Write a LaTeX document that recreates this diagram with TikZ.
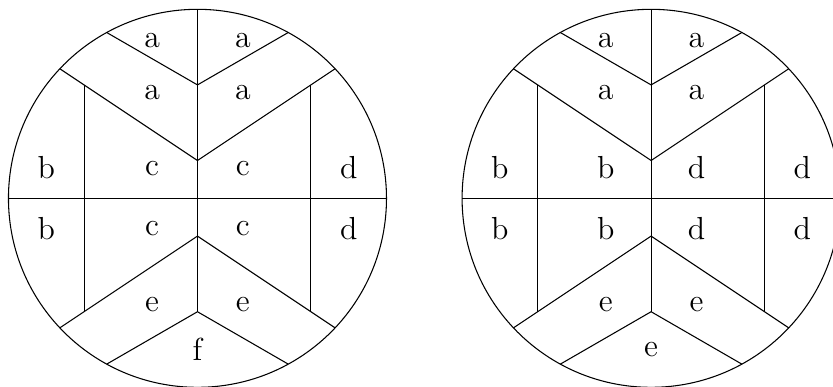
\documentclass[tikz,border=0pt]{standalone}
\tikzset{
  lbl/.style={inner sep=0pt,font=\large},
  disk/.pic={
    \draw (0,0) circle (2.5);
    \draw (-2.5,0) -- (2.5,0) (0,2.5) -- (0,-1.5);
    \draw (-1.5,1.5) -- (-1.5,-1.5) (1.5,1.5) -- (1.5,-1.5);
    \draw (-1.8200,1.7133) -- (0,0.5) -- (1.8200,1.7133);
    \draw (-1.8200,-1.7133) -- (0,-0.5) -- (1.8200,-1.7133);
    \draw (-1.2003,2.1930) -- (0,1.5) -- (1.2003,2.1930);
    \draw (-1.2003,-2.1930) -- (0,-1.5) -- (1.2003,-2.1930);
  }
}
\begin{document}
\begin{tikzpicture}
\useasboundingbox (-2.612,-2.483) rectangle (8.406,2.623);
\pic at (0,0) {disk};
\pic at (6,0) {disk};
% left disk labels
\node[lbl] (L1) at (-0.6,2.09) {a};
\node[lbl] (L2) at (0.6,2.09) {a};
\node[lbl] (L3) at (-0.6,1.40) {a};
\node[lbl] (L4) at (0.6,1.40) {a};
\node[lbl] (L5) at (-2.0,0.40) {b};
\node[lbl] (L6) at (-0.6,0.40) {c};
\node[lbl] (L7) at (0.6,0.40) {c};
\node[lbl] (L8) at (2.0,0.40) {d};
\node[lbl] (L9) at (-2.0,-0.40) {b};
\node[lbl] (L10) at (-0.6,-0.40) {c};
\node[lbl] (L11) at (0.6,-0.40) {c};
\node[lbl] (L12) at (2.0,-0.40) {d};
\node[lbl] (L13) at (-0.6,-1.40) {e};
\node[lbl] (L14) at (0.6,-1.40) {e};
\node[lbl] (L15) at (0,-2.0) {f};
% right disk labels
\node[lbl] (R1) at (5.4,2.09) {a};
\node[lbl] (R2) at (6.6,2.09) {a};
\node[lbl] (R3) at (5.4,1.40) {a};
\node[lbl] (R4) at (6.6,1.40) {a};
\node[lbl] (R5) at (4.0,0.40) {b};
\node[lbl] (R6) at (5.4,0.40) {b};
\node[lbl] (R7) at (6.6,0.40) {d};
\node[lbl] (R8) at (8.0,0.40) {d};
\node[lbl] (R9) at (4.0,-0.40) {b};
\node[lbl] (R10) at (5.4,-0.40) {b};
\node[lbl] (R11) at (6.6,-0.40) {d};
\node[lbl] (R12) at (8.0,-0.40) {d};
\node[lbl] (R13) at (5.4,-1.40) {e};
\node[lbl] (R14) at (6.6,-1.40) {e};
\node[lbl] (R15) at (6,-2.0) {e};
\end{tikzpicture}
\end{document}
